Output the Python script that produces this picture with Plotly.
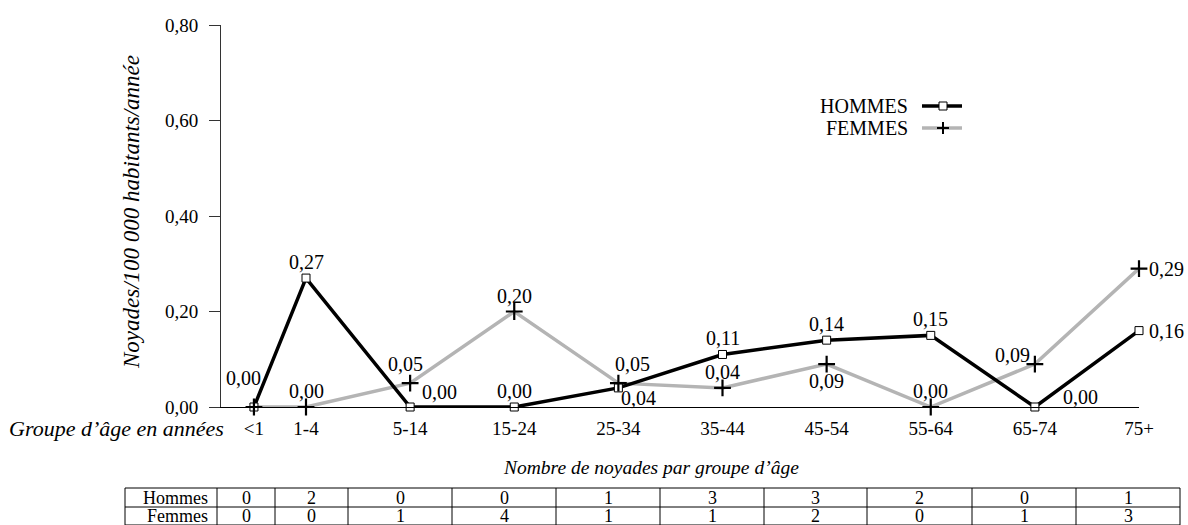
import plotly.graph_objects as go

# ---------------- data ----------------
age_groups = ["<1", "1-4", "5-14", "15-24", "25-34", "35-44", "45-54", "55-64", "65-74", "75+"]
hommes_rate = [0.00, 0.27, 0.00, 0.00, 0.04, 0.11, 0.14, 0.15, 0.00, 0.16]
femmes_rate = [0.00, 0.00, 0.05, 0.20, 0.05, 0.04, 0.09, 0.00, 0.09, 0.29]
hommes_count = [0, 2, 0, 0, 1, 3, 3, 2, 0, 1]
femmes_count = [0, 0, 1, 4, 1, 1, 2, 0, 1, 3]
row_labels = ["Hommes", "Femmes"]
y_ticks = [0.0, 0.2, 0.4, 0.6, 0.8]

# ---------------- layout helpers ----------------
W, H = 1188, 525
FONT = "Liberation Serif"
# slot positions of the categories on the x axis (first group sits at half a slot)
x_slots = [0.5, 1, 2, 3, 4, 5, 6, 7, 8, 9]

# label offsets (pixels: right, up) relative to each point
hommes_off = [(-10, 29), (0, 16), (29, 15), (0, 16), (20, -10),
              (0, 16), (0, 16), (0, 16), (46, 10), (27, 0)]
femmes_off = [None, (0, 16), (-5, 19), (0, 16), (14, 19),
              (0, 16), (0, -17), (0, 16), (-22, 9), (27, 0)]   # <1 label shared with HOMMES


def fx(px):  # screen pixel -> paper
    return px / W


def fy(py):
    return 1 - py / H


def fmt(v):
    return f"{v:.2f}".replace(".", ",")


GRAY = "#b4b4b4"

fig = go.Figure()

# FEMMES line (below)
fig.add_trace(go.Scatter(
    x=x_slots, y=femmes_rate, mode="lines",
    line=dict(color=GRAY, width=3.5), showlegend=False, cliponaxis=False, hoverinfo="skip",
))
# HOMMES line + markers
fig.add_trace(go.Scatter(
    x=x_slots, y=hommes_rate, mode="lines+markers", name="HOMMES",
    line=dict(color="black", width=3.5),
    marker=dict(symbol="square", size=8, color="white", line=dict(color="black", width=1)),
    showlegend=False, cliponaxis=False,
))
# FEMMES markers (on top)
fig.add_trace(go.Scatter(
    x=x_slots, y=femmes_rate, mode="markers", name="FEMMES",
    marker=dict(symbol="cross-thin", size=12, color="black", line=dict(color="black", width=2.2)),
    showlegend=False, cliponaxis=False,
))

# plot area in screen pixels
X0, X1, Y0, Y1 = 221, 1139, 25, 407
SLOT1_PX = 306
slot_px = (X1 - SLOT1_PX) / (x_slots[-1] - 1)

fig.update_layout(
    width=W, height=H,
    margin=dict(l=0, r=0, t=0, b=0),
    paper_bgcolor="white", plot_bgcolor="white",
    separators=", ",
    font=dict(family=FONT, size=20, color="black"),
    xaxis=dict(
        domain=[fx(X0), fx(X1)],
        range=[1 - (SLOT1_PX - X0) / slot_px, x_slots[-1]],
        tickvals=x_slots, ticktext=age_groups,
        showline=True, linecolor="black", linewidth=1,
        ticks="outside", ticklen=4, tickcolor="rgba(0,0,0,0)",
        showgrid=False, zeroline=False, automargin=False,
        tickfont=dict(family=FONT, size=19),
    ),
    yaxis=dict(
        domain=[fy(Y1), fy(Y0)],
        range=[y_ticks[0], y_ticks[-1]],
        tickvals=y_ticks, tickformat=".2f",
        showline=True, linecolor="#333333", linewidth=1,
        ticks="outside", ticklen=11, tickcolor="#333333", tickwidth=1,
        ticklabelstandoff=7,
        showgrid=False, zeroline=False, automargin=False,
        tickfont=dict(family=FONT, size=19),
    ),
)

ann = []
shapes = []

# value labels
for xs, vals, offs in [(x_slots, hommes_rate, hommes_off), (x_slots, femmes_rate, femmes_off)]:
    for xv, v, o in zip(xs, vals, offs):
        if o is None:
            continue
        ann.append(dict(x=xv, y=v, xref="x", yref="y", text=fmt(v), showarrow=False,
                        xanchor="center", yanchor="middle", xshift=o[0], yshift=o[1],
                        font=dict(family=FONT, size=20, color="black")))


def text(t, x, y, size, xanchor="center", angle=0):
    ann.append(dict(text=t, xref="paper", yref="paper", x=fx(x), y=fy(y),
                    showarrow=False, xanchor=xanchor, yanchor="middle", textangle=angle,
                    font=dict(family=FONT, size=size, color="black")))


def line(x0, y0, x1, y1, color="black", width=1):
    shapes.append(dict(type="line", xref="paper", yref="paper",
                       x0=fx(x0), x1=fx(x1), y0=fy(y0), y1=fy(y1),
                       line=dict(color=color, width=width)))


text("<i>Noyades/100 000 habitants/année</i>", 131, 212, 23, angle=-90)
text("<i>Groupe d’âge en années</i>", 226, 428, 22, xanchor="right")
text("<i>Nombre de noyades par groupe d’âge</i>", 651, 467, 19.5)

# legend (text on the left, symbol on the right)
text("HOMMES", 910, 106, 20, xanchor="right")
text("FEMMES", 910, 128, 20, xanchor="right")
line(922, 106, 962, 106, "black", 3.5)
shapes.append(dict(type="rect", xref="paper", yref="paper", x0=fx(939), x1=fx(947),
                   y0=fy(110), y1=fy(102), line=dict(color="black", width=1), fillcolor="white"))
line(922, 128, 962, 128, GRAY, 3.5)
line(937, 128, 949, 128, "black", 2)
line(943, 122, 943, 134, "black", 2)

# table of counts
col_edges = [125, 217, 275, 348, 452, 556, 660, 764, 867, 972, 1076, 1180]
row_edges = [488, 507, 525]
for xe in col_edges:
    line(xe, row_edges[0], xe, row_edges[-1], "black", 1)
for ye in row_edges:
    line(col_edges[0], ye, col_edges[-1], ye, "black", 1)
for r, (lab, counts) in enumerate(zip(row_labels, [hommes_count, femmes_count])):
    yc = (row_edges[r] + row_edges[r + 1]) / 2
    text(lab, col_edges[1] - 7, yc, 18, xanchor="right")
    for i, v in enumerate(counts):
        text(str(v), (col_edges[i + 1] + col_edges[i + 2]) / 2, yc, 18)

fig.update_layout(annotations=ann, shapes=shapes)

fig.write_html(
    "out.html",
    config={"displayModeBar": False},
    post_script="document.body.style.margin='0px';document.documentElement.style.overflow='hidden';",
)
